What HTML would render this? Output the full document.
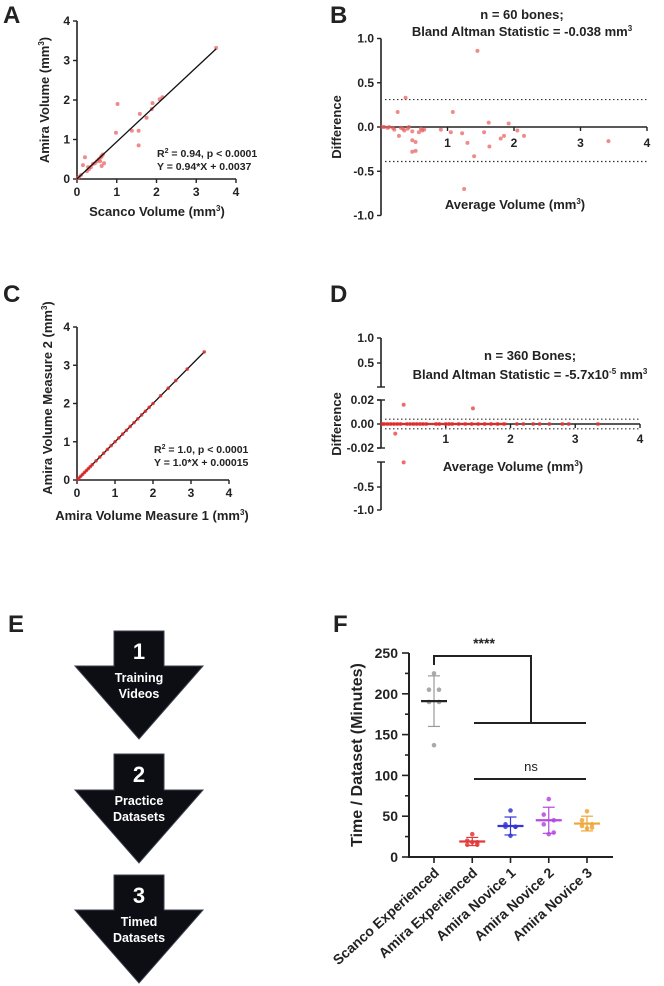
<!DOCTYPE html>
<html><head><meta charset="utf-8">
<style>
html,body{margin:0;padding:0;background:#fff;}
svg{display:block;font-family:"Liberation Sans",Arial,sans-serif;}
text{font-weight:bold;fill:#222;}
</style></head>
<body>
<svg id="fig" width="664" height="986" viewBox="0 0 664 986" xmlns="http://www.w3.org/2000/svg">
<g id="gA"></g>
<g id="gB"></g>
<g id="gC"></g>
<g id="gD"></g>
<g id="gE"></g>
<g id="gF"></g>
</svg>
<script>
// Panel A data
const aX = [3.5,0.2,0.15,1.02,0.98,1.58,1.55,1.38,1.55,1.75,1.9,1.88,2.08,2.15,0.6,0.65,0.58,0.62,0.68,0.3,0.35,0.25,0.5,0.4,0.1,0.05,0.02,0.55,0.28,0.45,0.62];
const aY = [3.32,0.55,0.35,1.9,1.17,1.65,1.22,1.22,0.85,1.55,1.92,1.77,2.02,2.07,0.55,0.62,0.45,0.33,0.4,0.25,0.3,0.2,0.45,0.38,0.1,0.05,0.02,0.5,0.3,0.4,0.58];
// Panel B data
const bAvg = [1.45,1.25,1.4,1.3,1.22,1.08,1.05,0.9,1.55,1.62,1.63,1.8,1.85,1.92,2.05,2.15,3.42,0.37,0.25,0.27,0.47,0.52,0.47,0.52,0.47,0.57,0.65,0.6,0.33,0.35,0.2,0.18,0.05,0.02,0.1,0.12,0.3,0.4,0.42,0.62];
const bDiff = [0.86,-0.7,-0.33,-0.18,-0.07,0.17,-0.06,-0.03,-0.06,0.05,-0.22,-0.13,-0.1,0.04,-0.04,-0.1,-0.16,0.33,0.17,-0.1,-0.28,-0.27,-0.15,-0.17,-0.05,-0.06,-0.03,-0.02,-0.02,-0.04,-0.03,-0.01,0,0,-0.01,0,-0.01,-0.02,0,-0.04];
const bLimits = [0.31,-0.39];
// Panel C data
const cX = [0.02,0.05,0.1,0.15,0.2,0.25,0.3,0.35,0.4,0.5,0.6,0.7,0.8,0.9,1.0,1.1,1.2,1.3,1.4,1.5,1.6,1.7,1.8,1.9,2.0,2.2,2.4,2.6,2.9,3.35];
const cY = [0.02,0.05,0.1,0.15,0.2,0.25,0.3,0.35,0.4,0.5,0.6,0.7,0.8,0.9,1.0,1.1,1.2,1.3,1.4,1.5,1.6,1.7,1.8,1.9,2.0,2.2,2.4,2.6,2.9,3.35];
// Panel D data
const dAvg = [0.35,1.42,0.22,0.35,0.02,0.05,0.1,0.15,0.2,0.25,0.3,0.4,0.45,0.5,0.55,0.6,0.65,0.7,0.85,0.9,1.0,1.05,1.1,1.2,1.3,1.4,1.5,1.6,1.7,1.8,1.9,2.1,2.2,2.35,2.45,2.6,2.8,2.9,3.35];
const dDiff = [0.016,0.013,-0.008,-0.032,0,0,0,0,0,0,0,0,0,0,0,0,0,0,0,0,0,0,0,0,0,0,0,0,0,0,0,0,0,0,0,0,0,0,0];
const dLimits = [0.004,-0.004];
// Panel F data
const fCats = ["Scanco Experienced","Amira Experienced","Amira Novice 1","Amira Novice 2","Amira Novice 3"];
const fColors = ["#9a9a9a","#e03a3a","#3535d5","#b548e0","#f0a535"];
const fPts0 = [225,205,205,190,190,137];
const fPts1 = [28,20,18,15,15,18];
const fPts2 = [57,40,37,37,37,26];
const fPts3 = [71,52,45,40,30,28];
const fPts4 = [56,45,40,38,36,35];
const fMeans = [191,19,38,45,41];
const fSD = [31,5,11,16,9];
const fTicks = [0,50,100,150,200,250];

const NS="http://www.w3.org/2000/svg";
function el(parent,tag,attrs,txt){const e=document.createElementNS(NS,tag);for(const k in attrs)e.setAttribute(k,attrs[k]);if(txt!==undefined)e.textContent=txt;parent.appendChild(e);return e;}

function panelLetter(g,x,y,t){const e=el(g,'text',{x:x,y:y,'font-size':24});e.textContent=t;

}

// ---------- Panel A ----------
(function(){
const g=document.getElementById('gA');
panelLetter(g,3,23,'A');
const sx=v=>77+v*(159/4), sy=v=>179-v*(158/4);
const ax=el(g,'path',{d:`M${sx(0)},${sy(4)} V${sy(0)} H${sx(4)}`,fill:'none',stroke:'#222','stroke-width':1.6});


for(let i=0;i<=4;i++){
 el(g,'line',{x1:sx(0)-4,x2:sx(0),y1:sy(i),y2:sy(i),stroke:'#222','stroke-width':1.4});
 el(g,'line',{x1:sx(i),x2:sx(i),y1:sy(0),y2:sy(0)+4,stroke:'#222','stroke-width':1.4});
 el(g,'text',{x:sx(0)-7,y:sy(i)+4,'font-size':12,'text-anchor':'end'},i);
 el(g,'text',{x:sx(i),y:sy(0)+17,'font-size':12,'text-anchor':'middle'},i);
}
aX.forEach((v,i)=>{const c=el(g,'circle',{cx:sx(v),cy:sy(aY[i]),r:2,fill:'#e85a5a','fill-opacity':0.7});

});
const fl=el(g,'line',{x1:sx(0),y1:sy(0.0037),x2:sx(3.5),y2:sy(0.94*3.5+0.0037),stroke:'#111','stroke-width':1.3});


el(g,'text',{x:157,y:157,'font-size':10.5},'').innerHTML='R<tspan dy="-4" font-size="7">2</tspan><tspan dy="4"> = 0.94, p &lt; 0.0001</tspan>';
el(g,'text',{x:157,y:170,'font-size':10.5},'Y = 0.94*X + 0.0037');
el(g,'text',{x:157,y:216,'font-size':13,'text-anchor':'middle'},'').innerHTML='Scanco Volume (mm<tspan dy="-5" font-size="8">3</tspan><tspan dy="5">)</tspan>';
el(g,'text',{x:0,y:0,'font-size':13,'text-anchor':'middle',transform:'translate(49,100) rotate(-90)'},'').innerHTML='Amira Volume (mm<tspan dy="-5" font-size="8">3</tspan><tspan dy="5">)</tspan>';
})();

// ---------- Panel B ----------
(function(){
const g=document.getElementById('gB');
panelLetter(g,330,23,'B');
const sx=v=>381+v*(266/4), sy=v=>127-v*(177/2);
el(g,'line',{x1:381,x2:381,y1:sy(1),y2:sy(-1),stroke:'#222','stroke-width':1.6});
el(g,'line',{x1:381,x2:sx(4),y1:sy(0),y2:sy(0),stroke:'#222','stroke-width':1.6});
[1,0.5,0,-0.5,-1].forEach(v=>{el(g,'line',{x1:377,x2:381,y1:sy(v),y2:sy(v),stroke:'#222','stroke-width':1.4});
el(g,'text',{x:374,y:sy(v)+4,'font-size':12,'text-anchor':'end'},v.toFixed(1));});
for(let i=1;i<=4;i++){el(g,'line',{x1:sx(i),x2:sx(i),y1:sy(0),y2:sy(0)+4,stroke:'#222','stroke-width':1.4});
el(g,'text',{x:sx(i),y:sy(0)+20,'font-size':12,'text-anchor':'middle'},i);}
bLimits.forEach(v=>{const l=el(g,'line',{x1:385,x2:sx(4),y1:sy(v),y2:sy(v),stroke:'#333','stroke-width':1.2,'stroke-dasharray':'1.5,2.5'});

});
bAvg.forEach((v,i)=>{const c=el(g,'circle',{cx:sx(v),cy:sy(bDiff[i]),r:2,fill:'#e85a5a','fill-opacity':0.7});

});
el(g,'text',{x:522,y:19,'font-size':13,'text-anchor':'middle'},'n = 60 bones;');
el(g,'text',{x:522,y:36,'font-size':13,'text-anchor':'middle'},'').innerHTML='Bland Altman Statistic = -0.038 mm<tspan dy="-5" font-size="8">3</tspan>';
el(g,'text',{x:515,y:209,'font-size':13,'text-anchor':'middle'},'').innerHTML='Average Volume  (mm<tspan dy="-5" font-size="8">3</tspan><tspan dy="5">)</tspan>';
el(g,'text',{x:0,y:0,'font-size':13,'text-anchor':'middle',transform:'translate(341,127) rotate(-90)'},'Difference');
})();

// ---------- Panel C ----------
(function(){
const g=document.getElementById('gC');
panelLetter(g,3,302,'C');
const sx=v=>77+v*(152/4), sy=v=>480-v*(153/4);
el(g,'path',{d:`M${sx(0)},${sy(4)} V${sy(0)} H${sx(4)}`,fill:'none',stroke:'#222','stroke-width':1.6});
for(let i=0;i<=4;i++){
 el(g,'line',{x1:sx(0)-4,x2:sx(0),y1:sy(i),y2:sy(i),stroke:'#222','stroke-width':1.4});
 el(g,'line',{x1:sx(i),x2:sx(i),y1:sy(0),y2:sy(0)+4,stroke:'#222','stroke-width':1.4});
 el(g,'text',{x:sx(0)-7,y:sy(i)+4,'font-size':12,'text-anchor':'end'},i);
 el(g,'text',{x:sx(i),y:sy(0)+17,'font-size':12,'text-anchor':'middle'},i);
}
el(g,'line',{x1:sx(0),y1:sy(0.00015),x2:sx(3.35),y2:sy(3.35),stroke:'#111','stroke-width':1.3});
cX.forEach((v,i)=>{const c=el(g,'circle',{cx:sx(v),cy:sy(cY[i]),r:1.8,fill:'#e02a2a','fill-opacity':0.8});

});
el(g,'text',{x:154,y:453,'font-size':10.5},'').innerHTML='R<tspan dy="-4" font-size="7">2</tspan><tspan dy="4"> = 1.0, p  &lt; 0.0001</tspan>';
el(g,'text',{x:154,y:466,'font-size':10.5},'Y = 1.0*X + 0.00015');
el(g,'text',{x:152,y:520,'font-size':13,'text-anchor':'middle'},'').innerHTML='Amira Volume Measure 1 (mm<tspan dy="-5" font-size="8">3</tspan><tspan dy="5">)</tspan>';
el(g,'text',{x:0,y:0,'font-size':13,'text-anchor':'middle',transform:'translate(52,398) rotate(-90)'},'').innerHTML='Amira Volume Measure 2 (mm<tspan dy="-5" font-size="8">3</tspan><tspan dy="5">)</tspan>';
})();

// ---------- Panel D ----------
(function(){
const g=document.getElementById('gD');
panelLetter(g,330,302,'D');
const sx=v=>381+v*(259/4);
el(g,'line',{x1:381,x2:381,y1:338,y2:387,stroke:'#222','stroke-width':1.6});
el(g,'line',{x1:377,x2:385,y1:387,y2:387,stroke:'#222','stroke-width':1.4});
el(g,'line',{x1:381,x2:381,y1:400,y2:448,stroke:'#222','stroke-width':1.6});
el(g,'line',{x1:377,x2:385,y1:400,y2:400,stroke:'#222','stroke-width':1.4});
el(g,'line',{x1:377,x2:385,y1:448,y2:448,stroke:'#222','stroke-width':1.4});
el(g,'line',{x1:381,x2:381,y1:462,y2:510,stroke:'#222','stroke-width':1.6});
el(g,'line',{x1:377,x2:385,y1:462,y2:462,stroke:'#222','stroke-width':1.4});
[[1,338,'1.0'],[0.5,363,'0.5'],[0.02,400,'0.02'],[0,424,'0.00'],[-0.02,448,'-0.02'],[-0.5,487,'-0.5'],[-1,510,'-1.0']].forEach(t=>{
 el(g,'line',{x1:377,x2:381,y1:t[1],y2:t[1],stroke:'#222','stroke-width':1.4});
 el(g,'text',{x:374,y:t[1]+4,'font-size':12,'text-anchor':'end'},t[2]);});
el(g,'line',{x1:381,x2:sx(4),y1:424,y2:424,stroke:'#222','stroke-width':1.6});
for(let i=1;i<=4;i++){el(g,'line',{x1:sx(i),x2:sx(i),y1:424,y2:428,stroke:'#222','stroke-width':1.4});
el(g,'text',{x:sx(i),y:443,'font-size':12,'text-anchor':'middle'},i);}
dLimits.forEach(v=>{const l=el(g,'line',{x1:385,x2:sx(4),y1:424-v*1200,y2:424-v*1200,stroke:'#333','stroke-width':1.2,'stroke-dasharray':'1.5,2.5'});

});
dAvg.forEach((v,i)=>{const c=el(g,'circle',{cx:sx(v),cy:424-dDiff[i]*1200,r:2,fill:'#e83a3a','fill-opacity':0.75});

});
el(g,'line',{x1:381,x2:sx(1.95),y1:424,y2:424,stroke:'#e02a2a','stroke-width':2.5,'stroke-opacity':0.7});
el(g,'text',{x:530,y:360,'font-size':13,'text-anchor':'middle'},'n = 360 Bones;');
el(g,'text',{x:530,y:379,'font-size':13,'text-anchor':'middle'},'').innerHTML='Bland Altman Statistic = -5.7x10<tspan dy="-5" font-size="8">-5</tspan><tspan dy="5"> mm</tspan><tspan dy="-5" font-size="8">3</tspan>';
el(g,'text',{x:513,y:471,'font-size':13,'text-anchor':'middle'},'').innerHTML='Average Volume  (mm<tspan dy="-5" font-size="8">3</tspan><tspan dy="5">)</tspan>';
el(g,'text',{x:0,y:0,'font-size':13,'text-anchor':'middle',transform:'translate(341,424) rotate(-90)'},'Difference');
})();

// ---------- Panel E ----------
(function(){
const g=document.getElementById('gE');
panelLetter(g,8,632,'E');
const arrows=[[631,666,739,'1','Training','Videos'],[754,790,863,'2','Practice','Datasets'],[875,910,983,'3','Timed','Datasets']];
arrows.forEach((a,i)=>{
 const p=el(g,'path',{d:`M114,${a[0]} H164 V${a[1]} H203 L139,${a[2]} L75,${a[1]} H114 Z`,fill:'#0d0d14',stroke:'#3a4050','stroke-width':1});
 
 
 el(g,'text',{x:139,y:a[0]+28,'font-size':22,'text-anchor':'middle',style:'fill:#fff'},a[3]);
 el(g,'text',{x:139,y:a[0]+51,'font-size':12.5,'text-anchor':'middle',style:'fill:#fff'},a[4]);
 el(g,'text',{x:139,y:a[0]+67,'font-size':12.5,'text-anchor':'middle',style:'fill:#fff'},a[5]);
});
})();

// ---------- Panel F ----------
(function(){
const g=document.getElementById('gF');
panelLetter(g,333,632,'F');
const sy=v=>857-v*(204/250);
const cx=i=>434+i*38.25;
el(g,'path',{d:`M409,${sy(250)} V857 H613`,fill:'none',stroke:'#222','stroke-width':2});
for(let v=0;v<=250;v+=25){el(g,'line',{x1:v%50===0?402:405,x2:409,y1:sy(v),y2:sy(v),stroke:'#222','stroke-width':1.6});}
fTicks.forEach(v=>{const t=el(g,'text',{x:398,y:sy(v)+5,'font-size':14,'text-anchor':'end'},v);

});
el(g,'text',{x:0,y:0,'font-size':16,'text-anchor':'middle',transform:'translate(362,755) rotate(-90)'},'Time / Dataset (Minutes)');
const pts=[fPts0,fPts1,fPts2,fPts3,fPts4];
fCats.forEach((c,i)=>{
 const x=cx(i);
 el(g,'line',{x1:x,x2:x,y1:857,y2:863,stroke:'#222','stroke-width':1.6});
 const t=el(g,'text',{x:0,y:0,'font-size':14,'text-anchor':'end',transform:`translate(${x+6},${874}) rotate(-42)`},c);
 
 
 const col=fColors[i];
 const m=fMeans[i], s=fSD[i];
 el(g,'line',{x1:x,x2:x,y1:sy(m+s),y2:sy(m-s),stroke:col,'stroke-width':1.2});
 el(g,'line',{x1:x-6,x2:x+6,y1:sy(m+s),y2:sy(m+s),stroke:col,'stroke-width':1.2});
 el(g,'line',{x1:x-6,x2:x+6,y1:sy(m-s),y2:sy(m-s),stroke:col,'stroke-width':1.2});
 pts[i].forEach((v,j)=>{const off=[0,-5,5,-5,5,0][j];
  const d=el(g,'circle',{cx:x+off,cy:sy(v),r:2.3,fill:col,'fill-opacity':0.85});
  
  });
 const ml=el(g,'line',{x1:x-13,x2:x+13,y1:sy(m),y2:sy(m),stroke:i===0?'#222':col,'stroke-width':2.2});
 
 
});
const br=el(g,'path',{d:'M434,665 V656 H531 V723 M474,723 H586',fill:'none',stroke:'#222','stroke-width':2});


el(g,'text',{x:484,y:648,'font-size':14,'text-anchor':'middle'},'****');
el(g,'line',{x1:474,x2:586,y1:779,y2:779,stroke:'#222','stroke-width':2});
el(g,'text',{x:531,y:771,'font-size':13,'text-anchor':'middle',style:'font-weight:normal'},'ns');
})();
</script>
</body></html>
